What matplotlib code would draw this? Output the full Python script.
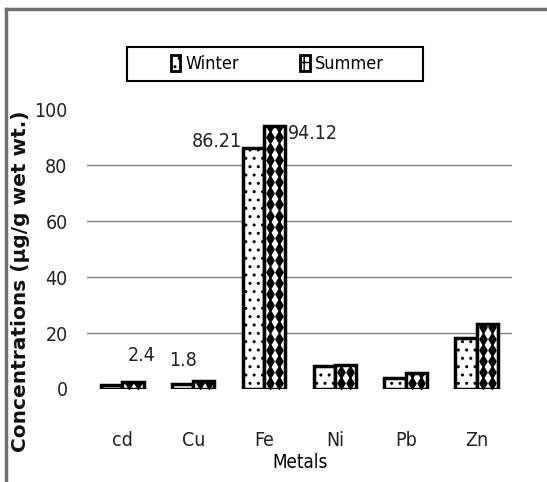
import matplotlib
matplotlib.use("Agg")
import matplotlib.pyplot as plt
import numpy as np
from matplotlib.patches import Rectangle
from matplotlib.lines import Line2D
from matplotlib import font_manager

metals = ["cd", "Cu", "Fe", "Ni", "Pb", "Zn"]
winter = [1.5, 1.8, 86.21, 8.2, 3.9, 18.2]
summer = [2.4, 3.0, 94.12, 8.5, 5.7, 23.3]
y_ticks = [0, 20, 40, 60, 80, 100]

# pick a narrow face for the chart text when one is available
names = {f.name for f in font_manager.fontManager.ttflist}
condensed = [f for f in font_manager.fontManager.ttflist
             if f.name == "DejaVu Sans" and str(f.stretch) in ("condensed", "semi-condensed", "600", "700")]
if "Liberation Sans Narrow" in names:
    NFONT = {"family": "Liberation Sans Narrow"}
elif condensed:
    NFONT = {"family": "DejaVu Sans", "stretch": "condensed"}
else:
    NFONT = {"family": "DejaVu Sans"}

fig = plt.figure(figsize=(5.47, 4.82), dpi=100)
ax = fig.add_axes([0.159, 0.193, 0.777, 0.580])

x = np.arange(len(metals))
w = 0.30
plt.rcParams["hatch.linewidth"] = 1.0
bw = ax.bar(x - w / 2, winter, w, facecolor="white", edgecolor="black",
            linewidth=2.5, hatch="..", zorder=3)
bs = ax.bar(x + w / 2, summer, w, facecolor="white", edgecolor="black",
            linewidth=2.5, zorder=3)

# diamond pattern inside the summer bars
for rect, val in zip(bs.patches, summer):
    x0 = rect.get_x()
    cols = [x0 + w * 0.3, x0 + w * 0.72]
    rows = np.arange(2.0, val + 2, 4.0)
    for cx in cols:
        pts = ax.scatter(np.full(len(rows), cx), rows, marker="d", s=55,
                         color="black", zorder=4, linewidths=0)
        pts.set_clip_path(rect)

ax.set_xlim(-0.5, len(metals) - 0.5)
ax.set_ylim(0, 100)
ax.set_yticks(y_ticks)
ax.set_xticks(x)
ax.set_xticklabels(metals)
for s in ax.spines.values():
    s.set_visible(False)
ax.tick_params(axis="both", length=0, labelsize=14)
ax.tick_params(axis="y", pad=14)
ax.tick_params(axis="x", pad=30)
for lab in ax.get_xticklabels() + ax.get_yticklabels():
    lab.set_fontfamily(NFONT["family"])
    if "stretch" in NFONT:
        lab.set_fontstretch(NFONT["stretch"])
    lab.set_color("#222222")

for yv in y_ticks[1:-1]:
    ax.axhline(yv, color="#808080", linewidth=1, zorder=1)

# value labels
lbl = dict(fontsize=14, color="#222222", **NFONT)
ax.text(x[2] - w - 0.01, winter[2] - 1, f"{winter[2]:.2f}", ha="right", va="bottom", **lbl)
ax.text(x[2] + w + 0.04, summer[2] + 0.5, f"{summer[2]:.2f}", ha="left", va="top", **lbl)
ax.text(x[0] + w / 2 + 0.12, summer[0] + 6, f"{summer[0]}", ha="center", va="bottom", **lbl)
ax.text(x[1] - w / 2, winter[1] + 5, f"{winter[1]}", ha="center", va="bottom", **lbl)

fig.text(300 / 547, 1 - 462 / 482, "Metals", ha="center", va="center",
         fontsize=13.5, color="black", **NFONT)
fig.text(21 / 547, 1 - 281 / 482, "Concentrations (\u00b5g/g wet wt.)",
         rotation=90, ha="center", va="center", fontsize=14.5,
         fontweight="bold", family="DejaVu Sans", color="#111111")

# legend with its own box
leg_w = Rectangle((0, 0), 1, 1, facecolor="white", edgecolor="black",
                  linewidth=2, hatch="..")
leg_s = Rectangle((0, 0), 1, 1, facecolor="white", edgecolor="black",
                  linewidth=2, hatch="++")
lg = fig.legend([leg_w, leg_s], ["Winter", "Summer"], ncol=2,
                loc="center", bbox_to_anchor=(277 / 547, 1 - 64 / 482),
                frameon=False, prop={"size": 13, **NFONT}, handlelength=0.55,
                handleheight=1.0, handletextpad=0.25, columnspacing=3.4,
                borderpad=0.3, borderaxespad=0)
fig.patches.append(Rectangle((127 / 547, 1 - 81 / 482), 296 / 547, 34 / 482,
                             transform=fig.transFigure, fill=False,
                             edgecolor="black", linewidth=1.5))

# outer border (left and top edges visible)
fig.add_artist(Line2D([6 / 547, 6 / 547], [0, 1 - 9 / 482],
                      transform=fig.transFigure, color="#707070", linewidth=2.5))
fig.add_artist(Line2D([6 / 547, 1], [1 - 9 / 482, 1 - 9 / 482],
                      transform=fig.transFigure, color="#707070", linewidth=2.5))

fig.savefig("out.png", dpi=100)
